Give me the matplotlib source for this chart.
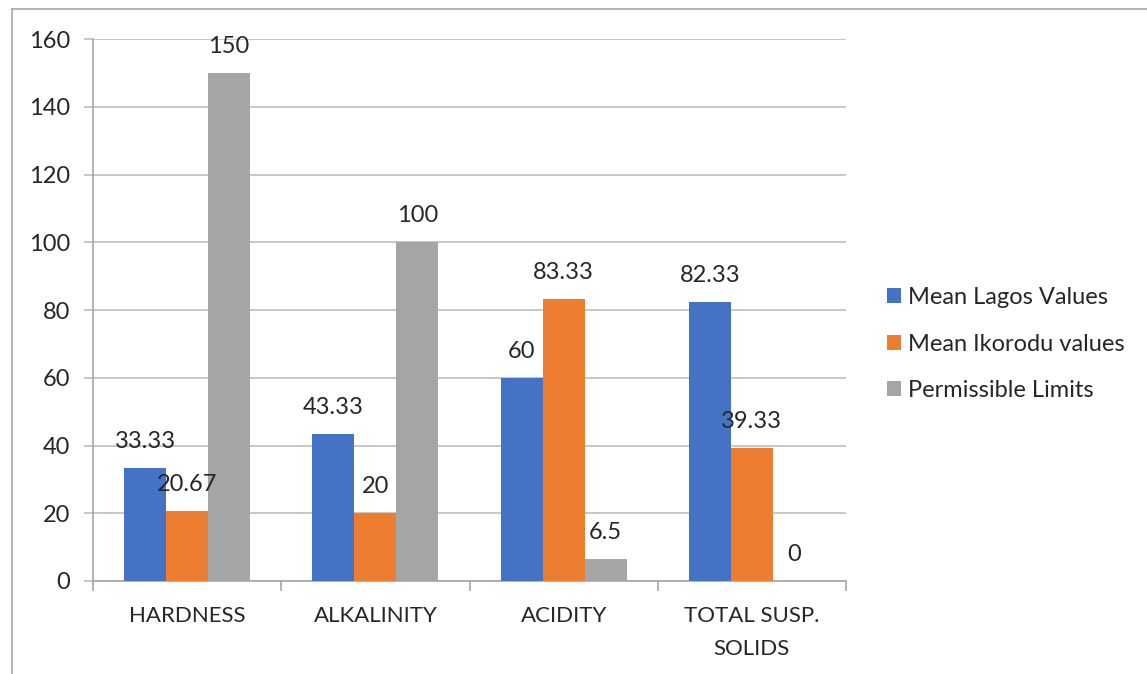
import numpy as np
import matplotlib
matplotlib.use("Agg")
import matplotlib.pyplot as plt
from matplotlib.lines import Line2D

kategorie = ["HARDNESS", "ALKALINITY", "ACIDITY", "TOTAL SUSP.\nSOLIDS"]
lagos = [33.33, 43.33, 60, 82.33]
ikorodu = [20.67, 20, 83.33, 39.33]
limity = [150, 100, 6.5, 0]
serie = ["Mean Lagos Values", "Mean Ikorodu values", "Permissible Limits"]
kolory = ["#4472C4", "#ED7D31", "#A5A5A5"]

plt.rcParams["font.family"] = ["Lato", "DejaVu Sans"]
plt.rcParams["font.size"] = 16

fig = plt.figure(figsize=(11.47, 6.74), dpi=100)
ax = fig.add_axes([0.0811, 0.138, 0.6565, 0.804])

x = np.arange(len(kategorie))
szer = 0.223
for i, (wart, kol, nazwa) in enumerate(zip([lagos, ikorodu, limity], kolory, serie)):
    poz = x + (i - 1) * szer
    ax.bar(poz, wart, width=szer, color=kol, label=nazwa, zorder=3)
    for px, v in zip(poz, wart):
        txt = ("%g" % v)
        ax.annotate(txt, (px, v), xytext=(0, 19), textcoords="offset points",
                    ha="center", va="center", fontsize=17, color="#262626", zorder=4)

ax.set_xlim(-0.5, len(kategorie) - 0.5)
ax.set_ylim(0, 160)
ax.set_yticks(range(0, 161, 20))
ax.yaxis.grid(True, color="#BFBFBF", linewidth=1.2, zorder=0)
ax.set_axisbelow(True)

# kreski podziału kategorii na osi x
ax.set_xticks(np.arange(-0.5, len(kategorie), 1.0))
ax.set_xticklabels([])
ax.set_xticks(x, minor=True)
ax.set_xticklabels(kategorie, minor=True, linespacing=1.8)
ax.tick_params(axis="x", which="major", direction="out", length=7, color="#A6A6A6", width=1.2)
ax.tick_params(axis="x", which="minor", length=0, pad=18, labelsize=16, labelcolor="#262626")
ax.tick_params(axis="y", length=6.5, color="#BFBFBF", width=1.2, pad=10, labelsize=17, labelcolor="#262626")

for s in ["top", "right"]:
    ax.spines[s].set_visible(False)
ax.spines["left"].set_color("#A6A6A6")
ax.spines["bottom"].set_color("#A6A6A6")
ax.spines["left"].set_linewidth(1.2)
ax.spines["bottom"].set_linewidth(1.2)

leg = fig.legend(loc="center left", bbox_to_anchor=(0.755, 0.4896), frameon=False,
                 fontsize=17, handlelength=0.6, handleheight=0.6, handletextpad=0.3,
                 labelspacing=1.08)
for t in leg.get_texts():
    t.set_color("#262626")

# ramka wykresu
fig.add_artist(Line2D([12 / 1147, 1.0], [1 - 9 / 674, 1 - 9 / 674], color="#A6A6A6", lw=1.2))
fig.add_artist(Line2D([12 / 1147, 12 / 1147], [0.0, 1 - 9 / 674], color="#A6A6A6", lw=1.2))

fig.savefig("out.png", dpi=100)
